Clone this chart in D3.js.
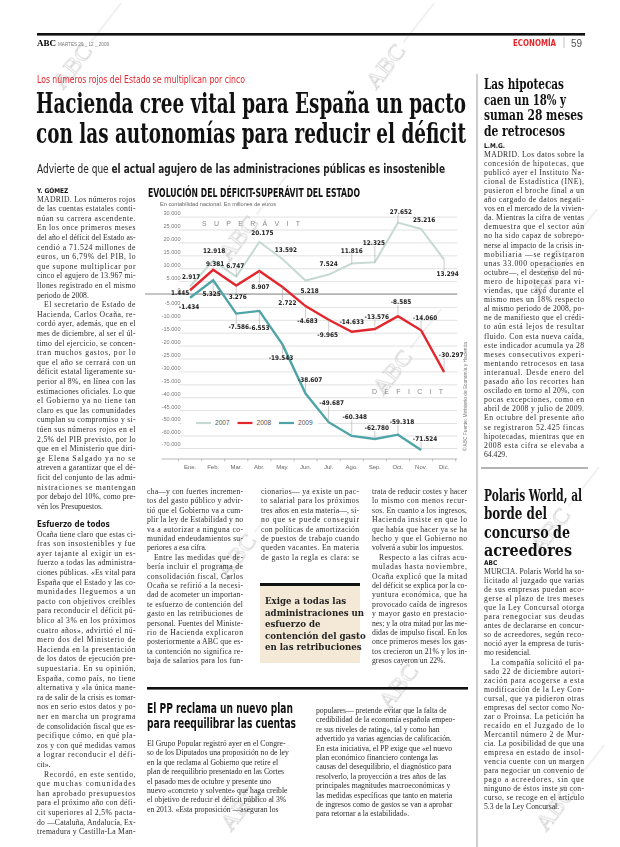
<!DOCTYPE html>
<html>
<head>
<meta charset="utf-8">
<script src="https://cdn.jsdelivr.net/npm/d3@7"></script>
<style>
html, body { margin: 0; padding: 0; background: #fff; }
svg { display: block; }
.body-text text { font-family: "Liberation Serif", "DejaVu Serif", serif; font-size: 7.7px; fill: #2b2b2b; }
.body-text text.subhead { font-family: "Liberation Sans Narrow", "DejaVu Sans Condensed", sans-serif; font-weight: bold; font-size: 8px; fill: #1a1a1a; }
.grid line { stroke: #cfcfcf; stroke-width: 0.6; }
.ylab text { font-family: "Liberation Sans", sans-serif; font-size: 5.6px; fill: #7a7a7a; }
.xlab text { font-family: "Liberation Sans", sans-serif; font-size: 6px; fill: #666; }
.dlab { font-family: "Liberation Sans Narrow", "DejaVu Sans Condensed", sans-serif; font-weight: bold; font-size: 6.4px; fill: #222; }
</style>
</head>
<body>
<div id="page"></div>
<script>

// ---- chart data (millones de euros) ----
var months = ["Ene.", "Feb.", "Mar.", "Abr.", "May.", "Jun.", "Jul.", "Ago.", "Sep.", "Oct.", "Nov.", "Dic."];
var saldo2007 = [2917, 12918, 6747, 20175, 13592, 5218, 7524, 11816, 12325, 27652, 25216, 13294];
var saldo2008 = [1445, 9381, 3276, 8907, 2722, -4683, -9965, -14633, -13576, -8585, -14060, -30297];
var saldo2009 = [-1434, 5325, -7586, -6553, -19543, -38607, -49687, -60348, -62780, -59318, -71524];
var yTicks = [30000, 25000, 20000, 15000, 10000, 5000, 0, -5000, -10000, -15000, -20000, -25000,
  -30000, -35000, -40000, -45000, -50000, -60000, -70000];
var years = ["2007", "2008", "2009"];

// where each value label sits relative to its point [dx, dy]
var off2007 = [[1,-10],[1,-10],[-1,-11],[3,-9],[3.5,-9.5],[4,10],[0,-10.5],[0,-13],[-1,-19.5],[3,-11],[3,-9.6],[3.5,14]];
var off2008 = [[-10,2.5],[2,-6],[1.5,11],[1,15.5],[5,16],[2,15],[-1,15.5],[0,-9.5],[2,-12.5],[3,-14],[4,-12.5],[7,-17]];
var off2009 = [[-1,9],[-1.5,14],[2.5,13.5],[0,16.5],[-1.5,13],[4.5,-14.3],[3,-19],[3,-18.7],[2,-11],[4,-12.5],[4,-11]];

// ---- page text ----
var leftCol = [
  "MADRID. Los números rojos",
  "de las cuentas estatales conti-",
  "núan su carrera ascendente.",
  "En los once primeros meses",
  "del año el déficit del Estado as-",
  "cendió a 71.524 millones de",
  "euros, un 6,79% del PIB, lo",
  "que supone multiplicar por",
  "cinco el agujero de 13.967 mi-",
  "llones registrado en el mismo",
  "periodo de 2008.¶",
  "\tEl secretario de Estado de",
  "Hacienda, Carlos Ocaña, re-",
  "cordó ayer, además, que en el",
  "mes de diciembre, al ser el úl-",
  "timo del ejercicio, se concen-",
  "tran muchos gastos, por lo",
  "que el año se cerrará con un",
  "déficit estatal ligeramente su-",
  "perior al 8%, en línea con las",
  "estimaciones oficiales. Lo que",
  "el Gobierno ya no tiene tan",
  "claro es que las comunidades",
  "cumplan su compromiso y si-",
  "túen sus números rojos en el",
  "2,5% del PIB previsto, por lo",
  "que en el Ministerio que diri-",
  "ge Elena Salgado ya no se",
  "atreven a garantizar que el dé-",
  "ficit del conjunto de las admi-",
  "nistraciones se mantengan",
  "por debajo del 10%, como pre-",
  "vén los Presupuestos.¶",
  "#Esfuerzo de todos",
  "Ocaña tiene claro que estas ci-",
  "fras son insostenibles y fue",
  "ayer tajante al exigir un es-",
  "fuerzo a todas las administra-",
  "ciones públicas. «Es vital para",
  "España que el Estado y las co-",
  "munidades lleguemos a un",
  "pacto con objetivos creíbles",
  "para reconducir el déficit pú-",
  "blico al 3% en los próximos",
  "cuatro años», advirtió el nú-",
  "mero dos del Ministerio de",
  "Hacienda en la presentación",
  "de los datos de ejecución pre-",
  "supuestaria. En su opinión,",
  "España, como país, no tiene",
  "alternativa y «la única mane-",
  "ra de salir de la crisis es tomar-",
  "nos en serio estos datos y po-",
  "ner en marcha un programa",
  "de consolidación fiscal que es-",
  "pecifique cómo, en qué pla-",
  "zos y con qué medidas vamos",
  "a lograr reconducir el défi-",
  "cit».¶",
  "\tRecordó, en este sentido,",
  "que muchas comunidades",
  "han aprobado presupuestos",
  "para el próximo año con défi-",
  "cit superiores al 2,5% pacta-",
  "do —Cataluña, Andalucía, Ex-",
  "tremadura y Castilla-La Man-"
];

var colA = [
  "cha—y con fuertes incremen-",
  "tos del gasto público y advir-",
  "tió que el Gobierno va a cum-",
  "plir la ley de Estabilidad y no",
  "va a autorizar a ninguna co-",
  "munidad endeudamientos su-",
  "periores a esa cifra.¶",
  "\tEntre las medidas que de-",
  "bería incluir el programa de",
  "consolidación fiscal, Carlos",
  "Ocaña se refirió a la necesi-",
  "dad de acometer un importan-",
  "te esfuerzo de contención del",
  "gasto en las retribuciones de",
  "personal. Fuentes del Ministe-",
  "rio de Hacienda explicaron",
  "posteriormente a ABC que es-",
  "ta contención no significa re-",
  "baja de salarios para los fun-"
];

var colB = [
  "cionarios— ya existe un pac-",
  "to salarial para los próximos",
  "tres años en esta materia—, si-",
  "no que se puede conseguir",
  "con políticas de amortización",
  "de puestos de trabajo cuando",
  "queden vacantes. En materia",
  "de gasto la regla es clara: se"
];

var colC = [
  "trata de reducir costes y hacer",
  "lo mismo con menos recur-",
  "sos. En cuanto a los ingresos,",
  "Hacienda insiste en que lo",
  "que había que hacer ya se ha",
  "hecho y que el Gobierno no",
  "volverá a subir los impuestos.¶",
  "\tRespecto a las cifras acu-",
  "muladas hasta noviembre,",
  "Ocaña explicó que la mitad",
  "del déficit se explica por la co-",
  "yuntura económica, que ha",
  "provocado caída de ingresos",
  "y mayor gasto en prestacio-",
  "nes; y la otra mitad por las me-",
  "didas de impulso fiscal. En los",
  "once primeros meses los gas-",
  "tos crecieron un 21% y los in-",
  "gresos cayeron un 22%.¶"
];

var quoteLines = ["Exige a todas las", "administraciones un", "esfuerzo de", "contención del gasto", "en las retribuciones"];

var ppTitle = ["El PP reclama un nuevo plan", "para reequilibrar las cuentas"];
var ppCol1 = [
  "El Grupo Popular registró ayer en el Congre-",
  "so de los Diputados una proposición no de ley",
  "en la que reclama al Gobierno que retire el",
  "plan de reequilibrio presentado en las Cortes",
  "el pasado mes de octubre y presente uno",
  "nuevo «concreto y solvente» que haga creíble",
  "el objetivo de reducir el déficit público al 3%",
  "en 2013. «Esta proposición —aseguran los"
];
var ppCol2 = [
  "populares— pretende evitar que la falta de",
  "credibilidad de la economía española empeo-",
  "re sus niveles de rating», tal y como han",
  "advertido ya varias agencias de calificación.",
  "En esta iniciativa, el PP exige que «el nuevo",
  "plan económico financiero contenga las",
  "causas del desequilibrio, el diagnóstico para",
  "resolverlo, la proyección a tres años de las",
  "principales magnitudes macroeconómicas y",
  "las medidas específicas que tanto en materia",
  "de ingresos como de gastos se van a aprobar",
  "para retornar a la estabilidad»."
];

var hipoTitle = ["Las hipotecas", "caen un 18% y", "suman 28 meses", "de retrocesos"];
var hipoTitleW = [80, 82, 99, 81];
var hipoText = [
  "MADRID. Los datos sobre la",
  "concesión de hipotecas, que",
  "publicó ayer el Instituto Na-",
  "cional de Estadística (INE),",
  "pusieron el broche final a un",
  "año cargado de datos negati-",
  "vos en el mercado de la vivien-",
  "da. Mientras la cifra de ventas",
  "demuestra que el sector aún",
  "no ha sido capaz de sobrepo-",
  "nerse al impacto de la crisis in-",
  "mobiliaria —se registraron",
  "unas 33.000 operaciones en",
  "octubre—, el descenso del nú-",
  "mero de hipotecas para vi-",
  "viendas, que cayó durante el",
  "mismo mes un 18% respecto",
  "al mismo periodo de 2008, po-",
  "ne de manifiesto que el crédi-",
  "to aún está lejos de resultar",
  "fluido. Con esta nueva caída,",
  "este indicador acumula ya 28",
  "meses consecutivos experi-",
  "mentando retrocesos en tasa",
  "interanual. Desde enero del",
  "pasado año los recortes han",
  "oscilado en torno al 20%, con",
  "pocas excepciones, como en",
  "abril de 2008 y julio de 2009.",
  "En octubre del presente año",
  "se registraron 52.425 fincas",
  "hipotecadas, mientras que en",
  "2008 esta cifra se elevaba a",
  "64.429.¶"
];

var polarisTitle = ["Polaris World, al", "borde del", "concurso de", "acreedores"];
var polarisTitleW = [98, 63, 86, 88];
var polarisText = [
  "MURCIA. Polaris World ha so-",
  "licitado al juzgado que varias",
  "de sus empresas puedan aco-",
  "gerse al plazo de tres meses",
  "que la Ley Concursal otorga",
  "para renegociar sus deudas",
  "antes de declararse en concur-",
  "so de acreedores, según reco-",
  "noció ayer la empresa de turis-",
  "mo residencial.¶",
  "\tLa compañía solicitó el pa-",
  "sado 22 de diciembre autori-",
  "zación para acogerse a esta",
  "modificación de la Ley Con-",
  "cursal, que ya pidieron otras",
  "empresas del sector como No-",
  "zar o Proinsa. La petición ha",
  "recaído en el Juzgado de lo",
  "Mercantil número 2 de Mur-",
  "cia. La posibilidad de que una",
  "empresa en estado de insol-",
  "vencia cuente con un margen",
  "para negociar un convenio de",
  "pago a acreedores, sin que",
  "ninguno de éstos inste su con-",
  "curso, se recoge en el artículo",
  "5.3 de la Ley Concursal.¶"
];

var watermarks = [[72, 66], [385, 66], [238, 238], [392, 372], [236, 556], [548, 272], [550, 530], [398, 686], [240, 808], [555, 808]];

;(function() {

  var red = "#e3262d";
  var narrow = "'Liberation Sans Narrow','DejaVu Sans Condensed',sans-serif";
  var headSerif = "'DejaVu Serif Condensed','DejaVu Serif',serif";
  var seriesColors = ["#c6dad3", "#e3262d", "#4ea4a6"];

  var svg = d3.select("#page").append("svg")
    .attr("width", 620)
    .attr("height", 847);

  // ---------- watermarks (behind everything) ----------
  var wm = svg.append("g").attr("opacity", 0.55);
  watermarks.forEach(function(p) {
    var g = wm.append("g").attr("transform", "translate(" + p[0] + "," + p[1] + ") rotate(-52)");
    g.append("text")
      .attr("text-anchor", "middle")
      .attr("y", 8)
      .style("font-family", "'Liberation Serif',serif")
      .style("font-size", "24px")
      .style("fill", "none")
      .style("stroke", "#9a9a9a")
      .style("stroke-width", 0.6)
      .text("ABC");
    g.append("line").attr("x1", 30).attr("x2", 80).attr("y1", 0).attr("y2", 0)
      .style("stroke", "#a8a8a8").style("stroke-width", 0.6);
  });

  // ---------- masthead ----------
  svg.append("rect").attr("x", 37).attr("y", 33).attr("width", 548).attr("height", 2.6).attr("fill", "#111");
  svg.append("text").attr("x", 37).attr("y", 45.5)
    .style("font-family", "'Liberation Serif',serif").style("font-weight", "bold").style("font-size", "9px")
    .text("ABC");
  svg.append("text").attr("x", 58).attr("y", 45.5)
    .style("font-family", "'Liberation Sans',sans-serif").style("font-size", "4.6px").style("fill", "#777")
    .text("MARTES 29 _ 12 _ 2009");
  svg.append("text").attr("x", 513).attr("y", 45.5)
    .attr("textLength", 43).attr("lengthAdjust", "spacingAndGlyphs")
    .style("font-family", narrow).style("font-weight", "bold").style("font-size", "9.5px").style("fill", red)
    .text("ECONOMÍA");
  svg.append("line").attr("x1", 564).attr("x2", 564).attr("y1", 37).attr("y2", 48)
    .style("stroke", "#999").style("stroke-width", 0.6);
  svg.append("text").attr("x", 571).attr("y", 46.5)
    .style("font-family", "'Liberation Sans',sans-serif").style("font-size", "10px").style("fill", "#555")
    .text("59");

  // column rule main / sidebar
  svg.append("line").attr("x1", 477).attr("x2", 477).attr("y1", 74).attr("y2", 847)
    .style("stroke", "#777").style("stroke-width", 0.7);

  // ---------- main headline ----------
  svg.append("text").attr("x", 37).attr("y", 83)
    .attr("textLength", 208).attr("lengthAdjust", "spacingAndGlyphs")
    .style("font-family", narrow).style("font-size", "10px").style("fill", red)
    .text("Los números rojos del Estado se multiplican por cinco");

  ["Hacienda cree vital para España un pacto", "con las autonomías para reducir el déficit"].forEach(function(s, i) {
    svg.append("text").attr("x", 36).attr("y", 113 + i * 30)
      .attr("textLength", 430).attr("lengthAdjust", "spacingAndGlyphs")
      .style("font-family", headSerif).style("font-weight", "bold").style("font-size", "27px").style("fill", "#111")
      .text(s);
  });

  var sub = svg.append("text").attr("x", 37).attr("y", 173)
    .attr("textLength", 408).attr("lengthAdjust", "spacingAndGlyphs")
    .style("font-family", narrow).style("font-size", "12.5px").style("fill", "#222");
  sub.append("tspan").text("Advierte de que ");
  sub.append("tspan").style("font-weight", "bold").text("el actual agujero de las administraciones públicas es insostenible");

  // ---------- text block helper ----------
  function drawBlock(lines, opt) {
    var g = svg.append("g").attr("class", "body-text");
    var yy = opt.y;
    lines.forEach(function(raw) {
      if (raw.charAt(0) === "#") {
        yy += opt.lh * 0.9;
        g.append("text").attr("class", "subhead").attr("x", opt.x).attr("y", yy).text(raw.slice(1));
        yy += opt.lh;
        return;
      }
      var indent = raw.charAt(0) === "\t" ? 7 : 0;
      var end = raw.slice(-1) === "¶";
      var s = raw.replace("\t", "").replace("¶", "");
      var t = g.append("text").attr("x", opt.x + indent).attr("y", yy).text(s);
      if (opt.justify && !end) t.attr("textLength", opt.w - indent).attr("lengthAdjust", "spacing");
      yy += opt.lh;
    });
    return yy;
  }

  function byline(x, y, s) {
    svg.append("text").attr("x", x).attr("y", y)
      .style("font-family", narrow).style("font-weight", "bold").style("font-size", "6.5px").style("fill", "#111")
      .text(s);
  }

  function headLines(lines, widths, x, y0, lh, size) {
    lines.forEach(function(s, i) {
      svg.append("text").attr("x", x).attr("y", y0 + i * lh)
        .attr("textLength", widths[i]).attr("lengthAdjust", "spacingAndGlyphs")
        .style("font-family", headSerif).style("font-weight", "bold").style("font-size", size + "px").style("fill", "#111")
        .text(s);
    });
  }

  // left column
  byline(37, 193, "Y. GÓMEZ");
  drawBlock(leftCol, { x: 37, y: 201.5, w: 98.5, lh: 9.6, justify: true });

  // under-chart columns
  drawBlock(colA, { x: 147, y: 494, w: 96, lh: 9.4, justify: true });
  drawBlock(colB, { x: 261, y: 494, w: 98, lh: 9.4, justify: true });
  drawBlock(colC, { x: 372, y: 494, w: 95, lh: 9.4, justify: true });

  // pull quote
  svg.append("rect").attr("x", 260).attr("y", 584).attr("width", 100).attr("height", 79).attr("fill", "#f4e8d6");
  svg.append("rect").attr("x", 260).attr("y", 583).attr("width", 100).attr("height", 3).attr("fill", "#111");
  quoteLines.forEach(function(s, i) {
    svg.append("text").attr("x", 265).attr("y", 604 + i * 11.6)
      .style("font-family", headSerif).style("font-weight", "bold").style("font-size", "9.6px").style("fill", "#222")
      .text(s);
  });

  // PP article
  svg.append("rect").attr("x", 147).attr("y", 687).attr("width", 321).attr("height", 2.6).attr("fill", "#111");
  ppTitle.forEach(function(s, i) {
    svg.append("text").attr("x", 147).attr("y", 713 + i * 14.5)
      .attr("textLength", i === 0 ? 146 : 149).attr("lengthAdjust", "spacingAndGlyphs")
      .style("font-family", "'DejaVu Sans Condensed','DejaVu Sans',sans-serif").style("font-weight", "bold")
      .style("font-size", "13.5px").style("fill", "#111")
      .text(s);
  });
  drawBlock(ppCol1, { x: 147, y: 746, w: 152, lh: 9.4, justify: false });
  drawBlock(ppCol2, { x: 316, y: 713, w: 152, lh: 9.4, justify: false });

  // sidebar: hipotecas
  headLines(hipoTitle, hipoTitleW, 484, 89, 15.5, 14);
  byline(484, 148, "L.M.G.");
  drawBlock(hipoText, { x: 484, y: 156.5, w: 100, lh: 9.1, justify: true });
  svg.append("line").attr("x1", 481).attr("x2", 588).attr("y1", 468).attr("y2", 468)
    .style("stroke", "#444").style("stroke-width", 0.8);

  // sidebar: Polaris
  headLines(polarisTitle, polarisTitleW, 484, 501, 18.3, 16);
  byline(484, 565, "ABC");
  drawBlock(polarisText, { x: 484, y: 574, w: 100, lh: 9.05, justify: true });

  // ---------- chart ----------
  var fmt = d3.formatLocale({ decimal: ",", thousands: ".", grouping: [3], currency: ["", "€"], minus: "-" }).format(",");

  var x = d3.scaleBand().domain(months).range([178.5, 455.7]);
  var xc = function(m) { return x(m) + x.bandwidth() / 2; };
  // the original compresses the scale below -50.000
  var y = d3.scaleLinear()
    .domain([-78500, -70000, -60000, -50000, 30000])
    .range([459, 448, 435.5, 423, 216.6]);

  var chart = svg.append("g").attr("class", "chart");

  chart.append("text").attr("x", 148).attr("y", 197)
    .attr("textLength", 212).attr("lengthAdjust", "spacingAndGlyphs")
    .style("font-family", narrow).style("font-weight", "bold").style("font-size", "11.5px").style("fill", "#111")
    .text("EVOLUCIÓN DEL DÉFICIT-SUPERÁVIT DEL ESTADO");
  chart.append("text").attr("x", 160).attr("y", 205.5)
    .style("font-family", "'Liberation Sans',sans-serif").style("font-size", "5.6px").style("fill", "#666")
    .text("En contabilidad nacional. En millones de euros");

  // grid
  chart.append("g").attr("class", "grid")
    .attr("transform", "translate(" + x.range()[0] + ",0)")
    .call(d3.axisRight(y).tickValues(yTicks).tickSize(x.range()[1] - x.range()[0] + 1.5).tickFormat(""))
    .call(function(g) { g.select(".domain").remove(); });

  chart.append("line")
    .attr("x1", 145).attr("x2", x.range()[1] + 1.5)
    .attr("y1", y(0)).attr("y2", y(0))
    .style("stroke", "#8d8d8d").style("stroke-width", 1);

  chart.append("g").attr("class", "ylab")
    .attr("transform", "translate(180.5,-3.8)")
    .call(d3.axisLeft(y).tickValues(yTicks).tickSize(0).tickPadding(0).tickFormat(fmt))
    .call(function(g) { g.select(".domain").remove(); g.selectAll("text").attr("font-family", null).attr("font-size", null); });

  // x axis
  chart.append("line")
    .attr("x1", x.range()[0] - 17).attr("x2", x.range()[1] + 1.5)
    .attr("y1", y.range()[0]).attr("y2", y.range()[0])
    .style("stroke", "#9a9a9a").style("stroke-width", 0.7);
  chart.append("g").attr("class", "xlab")
    .attr("transform", "translate(0," + (y.range()[0] + 2.5) + ")")
    .call(d3.axisBottom(x).tickSize(0))
    .call(function(g) { g.select(".domain").remove(); g.selectAll("text").attr("font-family", null).attr("font-size", null); });
  chart.selectAll(".xtick").data(months.concat([""]))
    .enter().append("line")
    .attr("x1", function(d, i) { return x.range()[0] + i * x.step(); })
    .attr("x2", function(d, i) { return x.range()[0] + i * x.step(); })
    .attr("y1", y.range()[0]).attr("y2", y.range()[0] + 2.5)
    .style("stroke", "#9a9a9a").style("stroke-width", 0.6);

  // zone words
  chart.append("text").attr("x", 202).attr("y", 225.5)
    .attr("textLength", 98).attr("lengthAdjust", "spacing")
    .style("font-family", "'Liberation Sans',sans-serif").style("font-size", "7px").style("fill", "#888")
    .text("S U P E R Á V I T");
  chart.append("text").attr("x", 372).attr("y", 394)
    .attr("textLength", 71).attr("lengthAdjust", "spacing")
    .style("font-family", "'Liberation Sans',sans-serif").style("font-size", "7px").style("fill", "#888")
    .text("D É F I C I T");

  // legend
  var lg = chart.append("g").attr("transform", "translate(181," + y(-50000) + ")");
  lg.append("rect").attr("x", 0).attr("y", -6.5).attr("width", 137).attr("height", 13).attr("fill", "#fff");
  years.forEach(function(yr, i) {
    var lx = 15 + i * 41.5;
    lg.append("line").attr("x1", lx).attr("x2", lx + 15).attr("y1", 0).attr("y2", 0)
      .style("stroke", seriesColors[i]).style("stroke-width", 2.2);
    lg.append("text").attr("x", lx + 19).attr("y", 2.4)
      .style("font-family", "'Liberation Sans',sans-serif").style("font-size", "6.6px").style("fill", "#555")
      .text(yr);
  });

  // series
  var series = [saldo2007, saldo2008, saldo2009];
  var offsets = [off2007, off2008, off2009];
  var line = d3.line()
    .x(function(d, i) { return xc(months[i]); })
    .y(function(d) { return y(d); });

  series.forEach(function(vals, s) {
    chart.append("path").datum(vals)
      .attr("d", line)
      .attr("fill", "none")
      .attr("stroke", seriesColors[s])
      .attr("stroke-width", s === 0 ? 2 : 2.4)
      .attr("stroke-linejoin", "miter");
  });

  series.forEach(function(vals, s) {
    var lab = chart.append("g");
    vals.forEach(function(v, i) {
      var px = xc(months[i]), py = y(v);
      var o = offsets[s][i];
      if (Math.abs(o[1]) >= 11) {
        var dir = o[1] > 0 ? 1 : -1;
        lab.append("line")
          .attr("x1", px).attr("x2", px)
          .attr("y1", py).attr("y2", py + o[1] - dir * 3)
          .style("stroke", "#9a9a9a").style("stroke-width", 0.5);
      }
      lab.append("text").attr("class", "dlab")
        .attr("x", px + o[0]).attr("y", py + o[1] + 2.2)
        .attr("text-anchor", "middle")
        .text(fmt(v));
    });
  });

  // source
  chart.append("text")
    .attr("transform", "translate(467,451) rotate(-90)")
    .style("font-family", "'Liberation Sans',sans-serif").style("font-size", "4.8px").style("fill", "#777")
    .text("© ABC  Fuente: Ministerio de Economía y Hacienda");

})();
</script>
</body>
</html>
